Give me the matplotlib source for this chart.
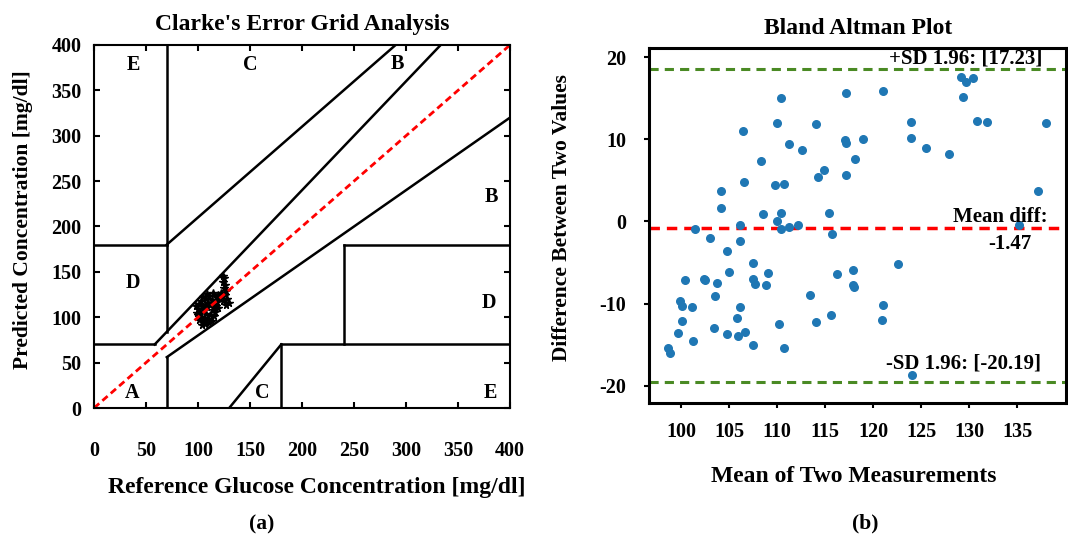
import matplotlib.pyplot as plt

plt.rcParams['font.family'] = ['Liberation Serif', 'DejaVu Serif']
plt.rcParams['font.weight'] = 'bold'
plt.rcParams['axes.unicode_minus'] = False

# Clarke grid: reference vs predicted glucose (mg/dl)
ref_glucose = [124, 125, 124, 126, 125, 127, 122, 126, 128, 130, 127, 124, 121, 119, 117,
               98, 100, 101, 103, 104, 102, 100, 103, 105, 107, 104, 106, 108, 106, 109,
               110, 108, 111, 113, 112, 114, 112, 110, 115, 116, 117, 118, 119, 115, 107,
               105, 109, 114, 111, 101, 99, 113]
pred_glucose = [146, 143, 139, 136, 132, 129, 127, 124, 120, 116, 113, 118, 121, 125, 122,
                112, 109, 115, 118, 112, 106, 103, 100, 96, 93, 92, 99, 104, 108, 111,
                116, 120, 123, 119, 113, 108, 103, 98, 101, 106, 112, 117, 110, 115, 114,
                122, 126, 127, 94, 97, 105, 96]

# Bland Altman: mean of the two measurements and their difference
ba_mean = [98.67, 98.8, 99.72, 99.86, 100.1, 100.07, 100.45, 101.15, 101.26, 101.43,
           102.97, 102.4, 102.5, 103.74, 103.53, 103.46, 104.13, 104.13, 104.76, 105.0,
           104.83, 105.94, 105.8, 106.15, 106.19, 106.12, 106.43, 106.54, 106.71, 107.48,
           107.45, 107.73, 107.48, 108.29, 108.5, 108.88, 109.09, 109.79, 110.0, 109.97,
           110.42, 110.45, 110.42, 110.73, 110.21, 110.7, 111.22, 111.29, 112.17, 112.62,
           113.46, 114.06, 114.09, 114.23, 114.86, 115.42, 115.77, 115.66, 116.22, 117.17,
           117.03, 117.2, 117.13, 118.15, 117.94, 117.87, 117.97, 118.95, 121.01, 121.01,
           120.94, 122.59, 123.95, 123.92, 124.06, 125.49, 127.87, 129.16, 129.65, 129.37,
           130.42, 130.84, 131.89, 135.24, 137.17, 138.0]
ba_diff = [-15.38, -16.0, -13.54, -9.74, -10.27, -12.15, -7.08, -10.39, -14.6, -0.94,
           -2.0, -6.96, -7.16, -7.53, -9.12, -13.0, 3.64, 1.64, -3.6, -6.1,
           -13.75, -14.0, -11.7, -10.43, -0.41, -2.33, 11.05, 4.83, -13.46, -5.07,
           -6.96, -7.57, -15.06, 7.32, 0.86, -7.77, -6.26, 4.38, 11.95, 0.04,
           15.02, 1.02, -0.94, 4.5, -12.48, -15.43, 9.41, -0.65, -0.41, 8.72,
           -9.0, 11.87, -12.19, 5.4, 6.22, 1.06, -1.55, -11.37, -6.46, 15.59,
           9.9, 9.53, 5.69, 7.65, -5.97, -7.69, -8.02, 9.98, 15.83, -10.23,
           -11.95, -5.24, 12.07, 10.15, -18.66, 8.92, 8.18, 17.59, 16.98, 15.14,
           17.43, 12.23, 12.07, -0.45, 3.64, 11.95]
upper_line = 18.6
mean_line = -0.77
lower_line = -19.6

fig = plt.figure(figsize=(10.68, 5.36), dpi=100)

# ---------------- (a) Clarke's error grid ----------------
ax1 = fig.add_axes([94 / 1068, 1 - 408 / 536, 416 / 1068, 363 / 536])
ax1.plot(ref_glucose, pred_glucose, '*', color='black', ms=5.5)
ax1.plot([0, 400], [0, 400], '--', color='red', lw=2, dashes=(2.5, 1.5))

k = dict(color='black', lw=1.8)
ax1.plot([0, 175 / 3], [70, 70], **k)
ax1.plot([175 / 3, 400 / 1.2], [70, 400], **k)
ax1.plot([70, 70], [84, 400], **k)
ax1.plot([0, 70], [180, 180], **k)
ax1.plot([70, 290], [180, 400], **k)
ax1.plot([70, 70], [0, 56], **k)
ax1.plot([70, 400], [56, 320], **k)
ax1.plot([180, 180], [0, 70], **k)
ax1.plot([180, 400], [70, 70], **k)
ax1.plot([240, 240], [70, 180], **k)
ax1.plot([240, 400], [180, 180], **k)
ax1.plot([130, 180], [0, 70], **k)

zones = [('A', 37, 17), ('B', 382, 232), ('B', 292, 379), ('C', 150, 378), ('C', 162, 17),
         ('D', 37, 138), ('D', 380, 116), ('E', 38, 378), ('E', 381, 17)]
for z, zx, zy in zones:
    ax1.text(zx, zy, z, fontsize=14.5, ha='center', va='center')

ax1.set_xlim(0, 400)
ax1.set_ylim(0, 400)
ax1.set_xticks(range(0, 401, 50))
ax1.set_yticks(range(0, 401, 50))
ax1.tick_params(direction='in', top=True, right=True, length=4, width=1.5, labelsize=14.5)
ax1.tick_params(axis='x', pad=24)
ax1.tick_params(axis='y', pad=9)
for s in ax1.spines.values():
    s.set_linewidth(1.5)
ax1.set_title("Clarke's Error Grid Analysis", fontsize=17, fontweight='bold', pad=11)
ax1.set_xlabel('Reference Glucose Concentration [mg/dl]', fontsize=17, fontweight='bold')
ax1.xaxis.set_label_coords(0.536, -0.218)
ax1.xaxis.label.set_va('center')
ax1.set_ylabel('Predicted Concentration [mg/dl]', fontsize=15.5, fontweight='bold')
ax1.yaxis.set_label_coords(-0.171, 0.518)
ax1.yaxis.label.set_va('center')

# ---------------- (b) Bland Altman plot ----------------
ax2 = fig.add_axes([649.4 / 1068, 1 - 403 / 536, 416.6 / 1068, 355 / 536])
ax2.scatter(ba_mean, ba_diff, s=30, color='#1f77b4', zorder=3)
ax2.axhline(upper_line, color='#4a8a24', ls='--', lw=2.2, dashes=(3, 2))
ax2.axhline(mean_line, color='red', ls='--', lw=2.5, dashes=(3, 2))
ax2.axhline(lower_line, color='#4a8a24', ls='--', lw=2.2, dashes=(3, 2))

ax2.text(0.943, 0.970, '+SD 1.96: [17.23]', transform=ax2.transAxes, fontsize=15,
         ha='right', va='center')
ax2.text(0.955, 0.525, 'Mean diff:', transform=ax2.transAxes, fontsize=15,
         ha='right', va='center')
ax2.text(0.865, 0.447, '-1.47', transform=ax2.transAxes, fontsize=15,
         ha='center', va='center')
ax2.text(0.941, 0.111, '-SD 1.96: [-20.19]', transform=ax2.transAxes, fontsize=15,
         ha='right', va='center')

ax2.set_xlim(96.7, 140.1)
ax2.set_ylim(-22.1, 21.1)
ax2.set_xticks(range(100, 136, 5))
ax2.set_yticks([-20, -10, 0, 10, 20])
ax2.tick_params(direction='out', length=3.5, width=1.5, labelsize=14.5)
ax2.tick_params(axis='x', pad=10)
ax2.tick_params(axis='y', pad=13)
for s in ax2.spines.values():
    s.set_linewidth(2.2)
ax2.set_title('Bland Altman Plot', fontsize=17, fontweight='bold', pad=10)
ax2.set_xlabel('Mean of Two Measurements', fontsize=17, fontweight='bold')
ax2.xaxis.set_label_coords(0.491, -0.206)
ax2.xaxis.label.set_va('center')
ax2.set_ylabel('Difference Between Two Values', fontsize=15.5, fontweight='bold')
ax2.yaxis.set_label_coords(-0.21, 0.521)
ax2.yaxis.label.set_va('center')

fig.text(262 / 1068, 1 - 524 / 536, '(a)', fontsize=15.5, ha='center', va='center')
fig.text(865 / 1068, 1 - 523 / 536, '(b)', fontsize=15.5, ha='center', va='center')

fig.savefig('out.png', dpi=100)
